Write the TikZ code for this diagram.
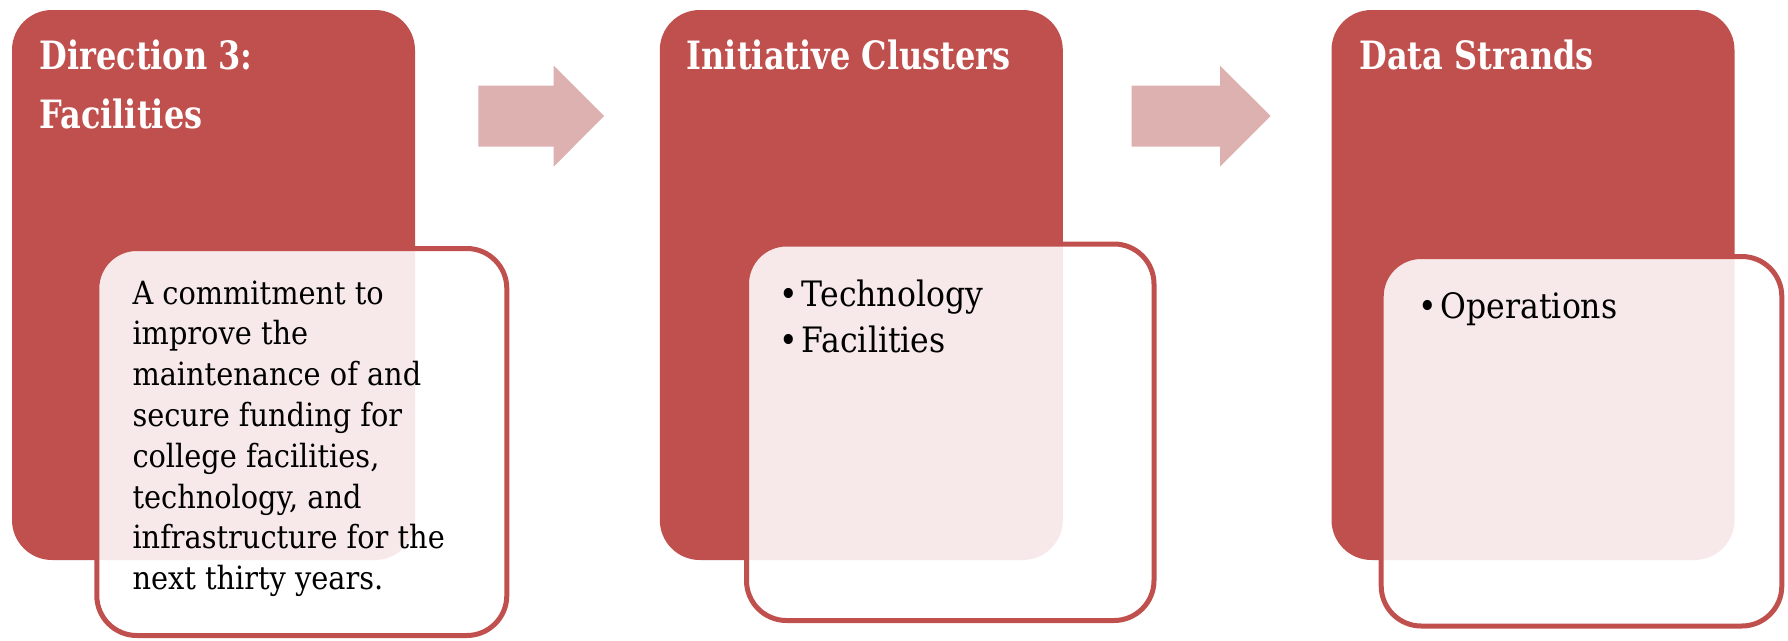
\documentclass[tikz,border=0pt]{standalone}
\usepackage{fontspec}
\setmainfont[FakeStretch=0.9]{DejaVu Serif}
\newfontfamily\headfont[FakeStretch=0.82]{DejaVu Serif}
\definecolor{darkred}{RGB}{192,80,77}
\definecolor{arrowpink}{RGB}{220,177,176}
\newcommand{\bulletitem}{\textbullet\kern4pt}
\begin{document}
\begin{tikzpicture}[x=1pt,y=-1pt,
  darkbox/.style={rectangle, fill=darkred, rounded corners=40pt, inner sep=0pt, outer sep=0pt},
  textbox/.style={rectangle, fill=white, fill opacity=0.88, draw=darkred, draw opacity=1, line width=5pt, rounded corners=40pt, inner sep=0pt, outer sep=0pt},
  headtext/.style={anchor=base west, inner sep=0pt, text=white, align=left, font=\headfont\fontsize{39}{59.2}\selectfont\bfseries},
  bodytext/.style={anchor=base west, inner sep=0pt, text=black, align=left, font=\fontsize{32}{40.8}\selectfont},
  bullettext/.style={anchor=base west, inner sep=0pt, text=black, align=left, font=\fontsize{35}{46}\selectfont}
]
\useasboundingbox (0,0) rectangle (1788,640);

% dark boxes
\node[darkbox, minimum width=403pt, minimum height=550pt] (d1) at (213.5,285) {};
\node[darkbox, minimum width=403pt, minimum height=550pt] (d2) at (861.3,285) {};
\node[darkbox, minimum width=403pt, minimum height=550pt] (d3) at (1533,285) {};

% headings (anchor = baseline of last line)
\node[headtext] (h1) at (39.3,128.6) {Direction 3:\\Facilities};
\node[headtext] (h2) at (686.5,69.4) {Initiative Clusters};
\node[headtext] (h3) at (1359.3,69.4) {Data Strands};

% overlapping text boxes
\node[textbox, minimum width=410pt, minimum height=387pt] (t1) at (301.8,442) {};
\node[textbox, minimum width=407.5pt, minimum height=376.5pt] (t2) at (950.25,432.25) {};
\node[textbox, minimum width=400.6pt, minimum height=369.5pt] (t3) at (1581.5,441.25) {};

% texts (anchor = baseline of last line)
\node[bodytext] (b1) at (132.3,589.6) {A commitment to\\improve the\\maintenance of and\\secure funding for\\college facilities,\\technology, and\\infrastructure for the\\next thirty years.};
\node[bullettext] (b2) at (779,352) {\bulletitem Technology\\\bulletitem Facilities};
\node[bullettext] (b3) at (1418,318) {\bulletitem Operations};

% arrows
\fill[fill=arrowpink] (478.3,85.7) -- (553.7,85.7) -- (553.7,65.7) -- (604,116) -- (553.7,166.7) -- (553.7,146.7) -- (478.3,146.7) -- cycle;
\fill[fill=arrowpink] (1131.7,85.7) -- (1220,85.7) -- (1220,65.7) -- (1270.7,116) -- (1220,166.7) -- (1220,146.7) -- (1131.7,146.7) -- cycle;
\end{tikzpicture}
\end{document}
